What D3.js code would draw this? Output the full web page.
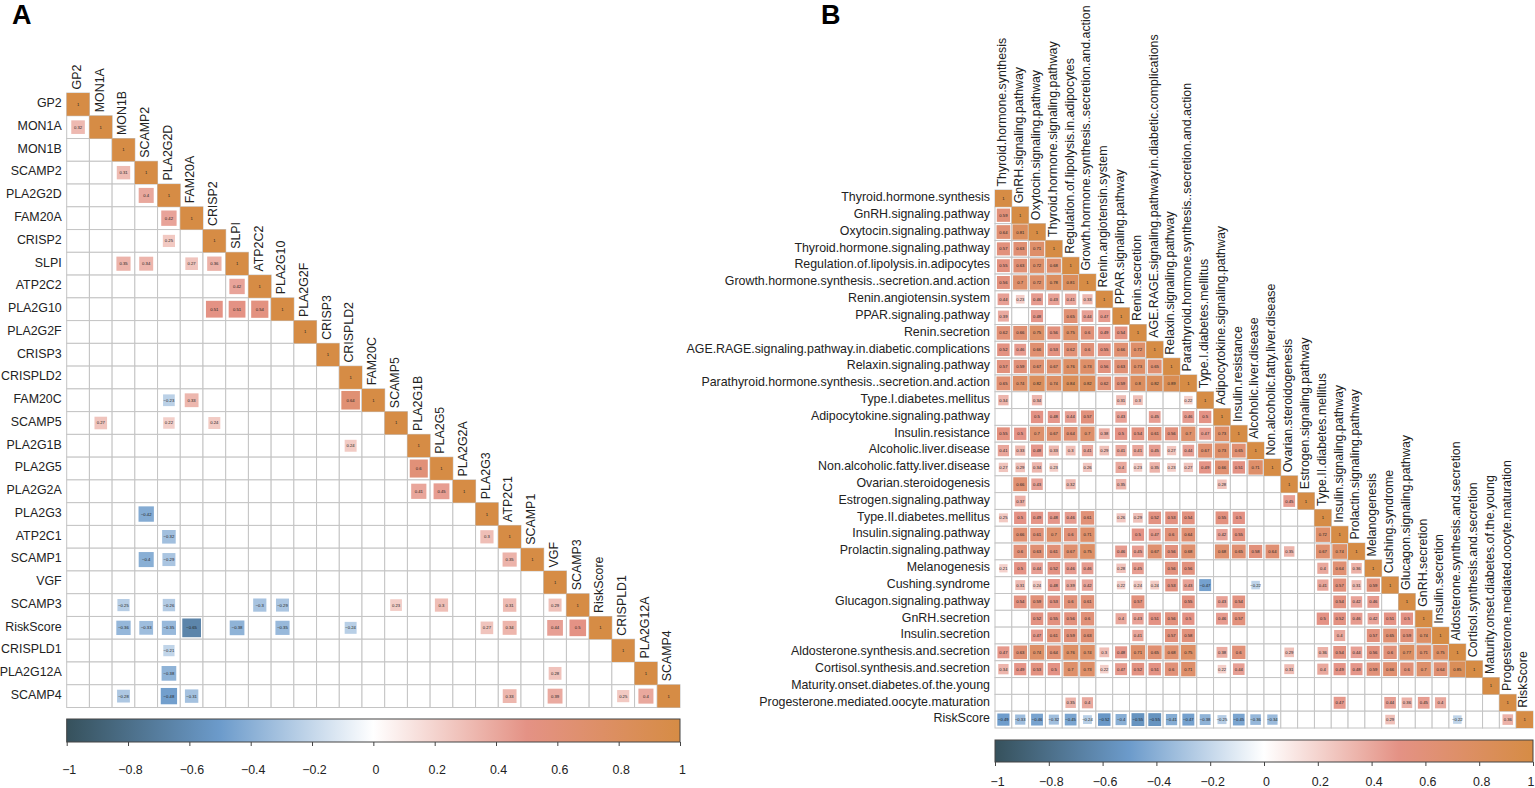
<!DOCTYPE html>
<html>
<head>
<meta charset="utf-8">
<title>Correlation heatmaps</title>
<script src="https://cdn.jsdelivr.net/npm/d3@7"></script>
<style>
    html, body { margin: 0; padding: 0; background: #fff; }
    svg { display: block; }
    text { font-family: "Liberation Sans", Arial, sans-serif; }
</style>
</head>
<body>
<svg id="chart" width="1535" height="788"></svg>
<script>
const _ = null;

// panel A: gene correlations, lower triangle, blank = not significant
const genes = ["GP2", "MON1A", "MON1B", "SCAMP2", "PLA2G2D", "FAM20A", "CRISP2", "SLPI", "ATP2C2",
    "PLA2G10", "PLA2G2F", "CRISP3", "CRISPLD2", "FAM20C", "SCAMP5", "PLA2G1B", "PLA2G5", "PLA2G2A",
    "PLA2G3", "ATP2C1", "SCAMP1", "VGF", "SCAMP3", "RiskScore", "CRISPLD1", "PLA2G12A", "SCAMP4"];

const geneCorr = [
    [],
    [0.32],
    [],
    [_, _, 0.31],
    [_, _, _, 0.4],
    [_, _, _, _, 0.42],
    [_, _, _, _, 0.25],
    [_, _, 0.35, 0.34, _, 0.27, 0.36],
    [_, _, _, _, _, _, _, 0.42],
    [_, _, _, _, _, _, 0.51, 0.51, 0.54],
    [],
    [],
    [],
    [_, _, _, _, -0.23, 0.33, _, _, _, _, _, _, 0.64],
    [_, 0.27, _, _, 0.22, _, 0.24],
    [_, _, _, _, _, _, _, _, _, _, _, _, 0.24],
    [_, _, _, _, _, _, _, _, _, _, _, _, _, _, _, 0.6],
    [_, _, _, _, _, _, _, _, _, _, _, _, _, _, _, 0.41, 0.45],
    [_, _, _, -0.42],
    [_, _, _, _, -0.32, _, _, _, _, _, _, _, _, _, _, _, _, _, 0.3],
    [_, _, _, -0.4, -0.29, _, _, _, _, _, _, _, _, _, _, _, _, _, _, 0.35],
    [],
    [_, _, -0.25, _, -0.26, _, _, _, -0.3, -0.29, _, _, _, _, 0.23, _, 0.3, _, _, 0.31, _, 0.29],
    [_, _, -0.36, -0.33, -0.35, -0.65, _, -0.38, _, -0.35, _, _, -0.24, _, _, _, _, _, 0.27, 0.34, _, 0.44, 0.5],
    [_, _, _, _, -0.21],
    [_, _, _, _, -0.38, _, _, _, _, _, _, _, _, _, _, _, _, _, _, _, _, 0.28],
    [_, _, -0.28, _, -0.48, -0.31, _, _, _, _, _, _, _, _, _, _, _, _, _, 0.33, _, 0.39, _, _, 0.25, 0.4]
];

// panel B: pathway correlations
const pathways = ["Thyroid.hormone.synthesis", "GnRH.signaling.pathway", "Oxytocin.signaling.pathway",
    "Thyroid.hormone.signaling.pathway", "Regulation.of.lipolysis.in.adipocytes",
    "Growth.hormone.synthesis..secretion.and.action", "Renin.angiotensin.system", "PPAR.signaling.pathway",
    "Renin.secretion", "AGE.RAGE.signaling.pathway.in.diabetic.complications", "Relaxin.signaling.pathway",
    "Parathyroid.hormone.synthesis..secretion.and.action", "Type.I.diabetes.mellitus",
    "Adipocytokine.signaling.pathway", "Insulin.resistance", "Alcoholic.liver.disease",
    "Non.alcoholic.fatty.liver.disease", "Ovarian.steroidogenesis", "Estrogen.signaling.pathway",
    "Type.II.diabetes.mellitus", "Insulin.signaling.pathway", "Prolactin.signaling.pathway", "Melanogenesis",
    "Cushing.syndrome", "Glucagon.signaling.pathway", "GnRH.secretion", "Insulin.secretion",
    "Aldosterone.synthesis.and.secretion", "Cortisol.synthesis.and.secretion",
    "Maturity.onset.diabetes.of.the.young", "Progesterone.mediated.oocyte.maturation", "RiskScore"];

const pathwayCorr = [
    [],
    [0.59],
    [0.64, 0.81],
    [0.57, 0.63, 0.71],
    [0.55, 0.63, 0.72, 0.68],
    [0.56, 0.7, 0.72, 0.78, 0.81],
    [0.44, 0.23, 0.46, 0.43, 0.41, 0.33],
    [0.39, _, 0.48, _, 0.65, 0.44, 0.47],
    [0.62, 0.66, 0.75, 0.56, 0.75, 0.6, 0.49, 0.54],
    [0.52, 0.46, 0.66, 0.53, 0.62, 0.6, 0.55, 0.66, 0.72],
    [0.57, 0.59, 0.67, 0.67, 0.76, 0.73, 0.56, 0.63, 0.73, 0.65],
    [0.65, 0.74, 0.82, 0.74, 0.84, 0.82, 0.62, 0.59, 0.8, 0.82, 0.89],
    [0.34, _, 0.34, _, _, _, _, 0.31, 0.3, _, _, 0.22],
    [_, _, 0.5, 0.48, 0.44, 0.57, _, 0.43, _, 0.45, _, 0.46, 0.5],
    [0.55, 0.5, 0.7, 0.67, 0.64, 0.7, 0.38, 0.5, 0.54, 0.61, 0.56, 0.7, 0.47, 0.73],
    [0.41, 0.33, 0.48, 0.33, 0.3, 0.41, 0.29, 0.41, 0.41, 0.45, 0.27, 0.44, 0.67, 0.73, 0.65],
    [0.27, 0.29, 0.34, 0.23, _, 0.26, _, 0.4, 0.23, 0.35, 0.23, 0.27, 0.49, 0.66, 0.51, 0.71],
    [_, 0.66, 0.43, _, 0.32, _, _, 0.35, _, _, _, _, _, 0.28],
    [_, 0.37, _, _, _, _, _, _, _, _, _, _, _, _, _, _, _, 0.45],
    [0.25, 0.5, 0.49, 0.48, 0.46, 0.61, _, 0.26, 0.29, 0.52, 0.53, 0.54, _, 0.55, 0.5],
    [_, 0.66, 0.61, 0.7, 0.6, 0.71, _, _, 0.5, 0.47, 0.6, 0.64, _, 0.42, 0.55, _, _, _, _, 0.72],
    [_, 0.6, 0.63, 0.61, 0.67, 0.75, _, 0.46, 0.45, 0.67, 0.56, 0.68, _, 0.68, 0.65, 0.58, 0.64, 0.35, _, 0.67, 0.74],
    [0.21, 0.5, 0.44, 0.52, 0.46, 0.46, _, 0.28, 0.45, _, 0.56, 0.56, _, _, _, _, _, _, _, 0.4, 0.64, 0.36],
    [_, 0.31, 0.24, 0.48, 0.39, 0.42, _, 0.22, 0.24, 0.24, 0.53, 0.43, -0.47, _, _, -0.22, _, _, _, 0.41, 0.57, 0.31, 0.59],
    [_, 0.54, 0.59, 0.53, 0.6, 0.61, _, _, 0.57, _, _, 0.55, _, 0.43, 0.54, _, _, _, _, _, 0.54, 0.42, 0.46],
    [_, _, 0.52, 0.55, 0.56, 0.6, _, 0.4, 0.43, 0.51, 0.56, 0.5, _, 0.46, 0.57, _, _, _, _, 0.5, 0.52, 0.46, 0.42, 0.51, 0.5],
    [_, _, 0.47, 0.61, 0.59, 0.63, _, _, 0.41, _, 0.57, 0.58, _, _, _, _, _, _, _, _, 0.4, _, 0.57, 0.65, 0.59, 0.74],
    [0.47, 0.63, 0.74, 0.64, 0.76, 0.74, 0.3, 0.48, 0.71, 0.65, 0.68, 0.75, _, 0.38, 0.6, _, _, 0.29, _, 0.36, 0.54, 0.44, 0.56, 0.6, 0.77, 0.71, 0.75],
    [0.34, 0.49, 0.53, 0.5, 0.7, 0.73, 0.22, 0.47, 0.52, 0.51, 0.6, 0.71, _, 0.22, 0.44, _, _, 0.31, _, 0.4, 0.49, 0.48, 0.59, 0.66, 0.6, 0.7, 0.64, 0.85],
    [],
    [_, _, _, _, 0.35, 0.4, _, _, _, _, _, _, _, _, _, _, _, _, _, _, 0.47, _, _, 0.44, 0.36, 0.45, 0.4],
    [-0.49, -0.33, -0.46, -0.32, -0.45, -0.24, -0.52, -0.4, -0.55, -0.55, -0.41, -0.47, -0.38, -0.25, -0.45, -0.36, -0.34, _, _, _, _, _, _, 0.29, _, _, _, -0.22, _, _, 0.36]
];

const legendTicks = [-1, -0.8, -0.6, -0.4, -0.2, 0, 0.2, 0.4, 0.6, 0.8, 1];
const rampStops = [-1, -0.5, 0, 0.5, 1];
const rampColors = ["#36515c", "#6c9bcb", "#ffffff", "#e49285", "#d68c45"];

const color = d3.scaleLinear().domain(rampStops).range(rampColors).interpolate(d3.interpolateRgb);
const svg = d3.select("#chart");

// gradient for both colour bars
const grad = svg.append("defs").append("linearGradient").attr("id", "ramp");
grad.selectAll("stop")
    .data(rampStops)
    .enter()
    .append("stop")
    .attr("offset", d => (d + 1) / 2)
    .attr("stop-color", d => color(d));

function drawPanel(names, corr, box) {
    const g = svg.append("g");
    const x = d3.scaleBand().domain(names).range([box.left, box.right]);
    const y = d3.scaleBand().domain(names).range([box.top, box.bottom]);
    const size = d3.scalePow().exponent(0.45).domain([0, 1]).range([0, x.bandwidth()]);

    // flatten to row/col cells, diagonal is always 1
    const cells = [];
    names.forEach((rowName, i) => {
        for (let j = 0; j <= i; j++) {
            const v = j === i ? 1 : (corr[i][j] === undefined ? null : corr[i][j]);
            cells.push({ row: rowName, col: names[j], value: v });
        }
    });

    g.selectAll("rect.grid")
        .data(cells)
        .enter()
        .append("rect")
        .attr("class", "grid")
        .attr("x", d => x(d.col))
        .attr("y", d => y(d.row))
        .attr("width", x.bandwidth())
        .attr("height", y.bandwidth())
        .attr("fill", "#fff")
        .attr("stroke", "#c4c4c4")
        .attr("stroke-width", 1);

    const filled = cells.filter(d => d.value !== null);

    g.selectAll("rect.sq")
        .data(filled)
        .enter()
        .append("rect")
        .attr("class", "sq")
        .attr("x", d => x(d.col) + (x.bandwidth() - size(Math.abs(d.value))) / 2)
        .attr("y", d => y(d.row) + (y.bandwidth() - size(Math.abs(d.value))) / 2)
        .attr("width", d => size(Math.abs(d.value)))
        .attr("height", d => size(Math.abs(d.value)))
        .attr("fill", d => color(d.value));

    g.selectAll("text.val")
        .data(filled)
        .enter()
        .append("text")
        .attr("class", "val")
        .attr("x", d => x(d.col) + x.bandwidth() / 2)
        .attr("y", d => y(d.row) + y.bandwidth() / 2)
        .attr("dy", "0.35em")
        .attr("text-anchor", "middle")
        .attr("font-size", box.valueFont)
        .attr("fill", "#222")
        .text(d => String(d.value).replace("-", "\u2212"));

    g.selectAll("text.rowlab")
        .data(names)
        .enter()
        .append("text")
        .attr("class", "rowlab")
        .attr("x", box.left - 5)
        .attr("y", d => y(d) + y.bandwidth() / 2 - 1.5)
        .attr("dy", "0.35em")
        .attr("text-anchor", "end")
        .attr("font-size", box.labelFont)
        .attr("fill", "#222")
        .text(d => d);

    // column labels sit on top of the diagonal cell
    g.selectAll("text.collab")
        .data(names)
        .enter()
        .append("text")
        .attr("class", "collab")
        .attr("transform", d => `translate(${x(d) + x.bandwidth() / 2 - 1.5},${y(d) - 3.5}) rotate(-90)`)
        .attr("dy", "0.35em")
        .attr("font-size", box.labelFont)
        .attr("fill", "#222")
        .text(d => d);

    // colour bar
    const bar = svg.append("g");
    const lx = d3.scaleLinear().domain([-1, 1]).range([box.left, box.right]);
    bar.append("rect")
        .attr("x", box.left)
        .attr("y", box.barTop)
        .attr("width", box.right - box.left)
        .attr("height", box.barHeight)
        .attr("fill", "url(#ramp)")
        .attr("stroke", "#444")
        .attr("stroke-width", 1);

    const axis = bar.append("g")
        .attr("transform", `translate(0,${box.barTop + box.barHeight})`)
        .call(d3.axisBottom(lx).tickValues(legendTicks).tickSize(4).tickPadding(box.tickPad).tickFormat(d3.format("")));
    axis.select(".domain").remove();
    axis.selectAll("line").attr("stroke", "#444");
    axis.selectAll("text")
        .attr("dx", 2)
        .attr("font-size", box.legendFont)
        .attr("font-family", "Liberation Sans, Arial, sans-serif")
        .attr("fill", "#222");
    // the last label of panel B would run off the page
    axis.selectAll("text")
        .filter(d => lx(d) + 6 > +svg.attr("width"))
        .attr("text-anchor", "end")
        .attr("dx", 1);
}

drawPanel(genes, geneCorr, {
    left: 66.7, right: 680, top: 93, bottom: 707.5,
    barTop: 719, barHeight: 23, tickPad: 19,
    valueFont: 4.2, labelFont: 12.4, legendFont: 12.4
});

drawPanel(pathways, pathwayCorr, {
    left: 995, right: 1533, top: 190, bottom: 728,
    barTop: 740, barHeight: 22, tickPad: 11,
    valueFont: 4.2, labelFont: 12.4, legendFont: 12.4
});

// panel letters
svg.selectAll("text.letter")
    .data([{ t: "A", x: 12, y: 24 }, { t: "B", x: 821, y: 24 }])
    .enter()
    .append("text")
    .attr("class", "letter")
    .attr("x", d => d.x)
    .attr("y", d => d.y)
    .attr("font-size", 27)
    .attr("font-weight", "bold")
    .attr("fill", "#000")
    .text(d => d.t);
</script>
</body>
</html>
